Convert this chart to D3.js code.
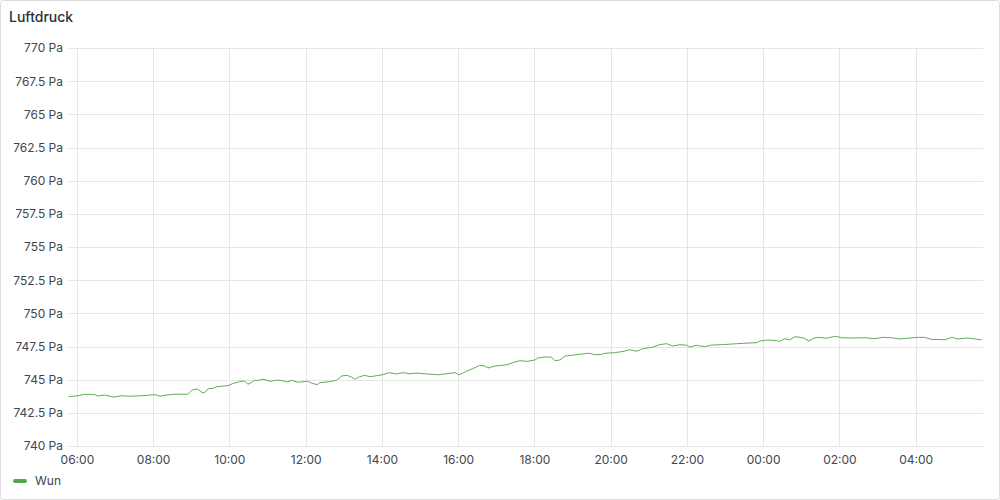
<!DOCTYPE html>
<html><head><meta charset="utf-8">
<script src="https://cdn.jsdelivr.net/npm/d3@7"></script>
<style>
html,body{margin:0;padding:0;background:#fff;}
svg{display:block;font-family:Inter,"Noto Sans",sans-serif;}
</style></head>
<body>
<svg id="chart" width="1000" height="500"></svg>
<script>
const title = "Luftdruck";
const seriesName = "Wun";
const unit = "Pa";
const yTicks = [740, 742.5, 745, 747.5, 750, 752.5, 755, 757.5, 760, 762.5, 765, 767.5, 770];
const xTickLabels = ["06:00","08:00","10:00","12:00","14:00","16:00","18:00","20:00","22:00","00:00","02:00","04:00"];
const domainStart = "2024-01-01T05:46";
const domainEnd = "2024-01-02T05:46";
const times = ["05:47","06:02","06:13","06:28","06:33","06:44","06:57","07:11","07:23","07:42","07:55","08:03","08:11","08:18","08:34","08:55","09:02","09:10","09:17","09:21","09:26","09:34","09:40","09:50","09:58","10:05","10:16","10:24","10:29","10:35","10:40","10:43","10:53","11:04","11:15","11:24","11:30","11:38","11:48","12:03","12:10","12:18","12:22","12:38","12:49","12:57","13:05","13:13","13:17","13:25","13:33","13:41","13:52","14:01","14:12","14:23","14:33","14:44","14:55","15:11","15:28","15:42","15:55","16:01","16:07","16:15","16:23","16:34","16:42","16:47","16:58","17:09","17:17","17:26","17:37","17:48","18:01","18:05","18:16","18:27","18:32","18:40","18:48","19:03","19:14","19:27","19:35","19:46","19:51","20:06","20:14","20:21","20:30","20:41","20:50","21:06","21:17","21:28","21:38","21:49","22:00","22:04","22:15","22:28","22:39","22:56","23:12","23:28","23:50","23:55","00:07","00:21","00:26","00:34","00:42","00:50","00:58","01:05","01:12","01:18","01:26","01:40","01:53","02:04","02:19","02:40","02:56","03:08","03:22","03:35","03:47","04:02","04:14","04:25","04:46","04:57","05:06","05:22","05:33","05:44"];
const values = [743.72,743.79,743.90,743.87,743.77,743.84,743.69,743.79,743.75,743.79,743.84,743.87,743.75,743.82,743.90,743.90,744.24,744.30,744.02,744.02,744.30,744.35,744.47,744.52,744.55,744.70,744.85,744.90,744.65,744.80,744.97,744.92,745.03,744.88,744.97,744.92,744.82,744.95,744.80,744.88,744.73,744.62,744.77,744.85,744.97,745.28,745.33,745.18,745.03,745.22,745.33,745.22,745.30,745.37,745.53,745.43,745.53,745.45,745.50,745.43,745.37,745.45,745.53,745.37,745.48,745.68,745.83,746.08,746.03,745.88,746.03,746.08,746.13,746.28,746.43,746.38,746.48,746.63,746.71,746.69,746.43,746.48,746.78,746.86,746.93,746.99,746.88,746.91,746.99,747.03,747.09,747.14,747.26,747.14,747.33,747.44,747.64,747.71,747.54,747.64,747.59,747.46,747.59,747.49,747.61,747.64,747.69,747.74,747.79,747.91,747.99,747.94,747.89,748.09,748.00,748.24,748.19,748.12,747.91,748.09,748.19,748.12,748.27,748.16,748.14,748.16,748.09,748.19,748.16,748.07,748.12,748.19,748.19,748.04,748.01,748.19,748.07,748.14,748.07,748.00];

// build dated series (times roll over midnight)
const parse = d3.timeParse("%Y-%m-%dT%H:%M");
const data = [];
let day = 1, prevH = -1;
times.forEach((t, i) => {
  const h = +t.slice(0,2);
  if (h < prevH) day += 1;
  prevH = h;
  data.push({t: parse(`2024-01-0${day}T${t}`), v: values[i]});
});

const svg = d3.select("#chart");
const W = 1000, H = 500;
const m = {left: 68, right: 17, top: 48, bottom: 54};

svg.append("rect").attr("x",0.5).attr("y",0.5).attr("width",W-1).attr("height",H-1)
  .attr("rx",3).attr("fill","#fff").attr("stroke","#dcdcdc");

svg.append("text").attr("x",9).attr("y",22).attr("font-size",14).attr("font-weight",500)
  .attr("fill","#2b2f35").text(title);

const x = d3.scaleTime().domain([parse(domainStart), parse(domainEnd)]).range([m.left, W - m.right]);
const y = d3.scaleLinear().domain([740, 770]).range([H - m.bottom, m.top]);

// grid
const grid = svg.append("g");
grid.selectAll("line.h").data(yTicks).join("line")
  .attr("x1", m.left).attr("x2", W - m.right)
  .attr("y1", d => Math.round(y(d)) + 0.5).attr("y2", d => Math.round(y(d)) + 0.5)
  .attr("stroke", "#e6e6e6");
const xTicks = x.ticks(d3.timeHour.every(2));
grid.selectAll("line.v").data(xTicks).join("line")
  .attr("x1", d => Math.round(x(d)) + 0.5).attr("x2", d => Math.round(x(d)) + 0.5)
  .attr("y1", m.top).attr("y2", H - m.bottom)
  .attr("stroke", "#e6e6e6");

// axes
const fmtY = d => `${d3.format("~f")(d)} ${unit}`;
const yAxis = d3.axisLeft(y).tickValues(yTicks).tickFormat(fmtY).tickSize(0).tickPadding(5);
const gy = svg.append("g").attr("transform", `translate(${m.left},0)`).call(yAxis);
gy.select(".domain").remove();
gy.selectAll("text").attr("font-size", 12).attr("fill", "#41464d").attr("font-family", "Inter, sans-serif");

const xAxis = d3.axisBottom(x).tickValues(xTicks).tickFormat((d, i) => xTickLabels[i]).tickSize(0).tickPadding(9);
const gx = svg.append("g").attr("transform", `translate(0,${H - m.bottom})`).call(xAxis);
gx.select(".domain").remove();
gx.selectAll("text").attr("font-size", 12).attr("fill", "#41464d").attr("font-family", "Inter, sans-serif");

// line
const line = d3.line().x(d => x(d.t)).y(d => y(d.v));
svg.append("path").datum(data).attr("d", line)
  .attr("fill", "none").attr("stroke", "#5fae55").attr("stroke-width", 1);

// legend
const lg = svg.append("g");
lg.append("line").attr("x1", 15).attr("x2", 25).attr("y1", 481).attr("y2", 481)
  .attr("stroke", "#56a64b").attr("stroke-width", 4).attr("stroke-linecap", "round");
lg.append("text").attr("x", 35).attr("y", 485).attr("font-size", 12).attr("fill", "#41464d").text(seriesName);
</script>
</body></html>
